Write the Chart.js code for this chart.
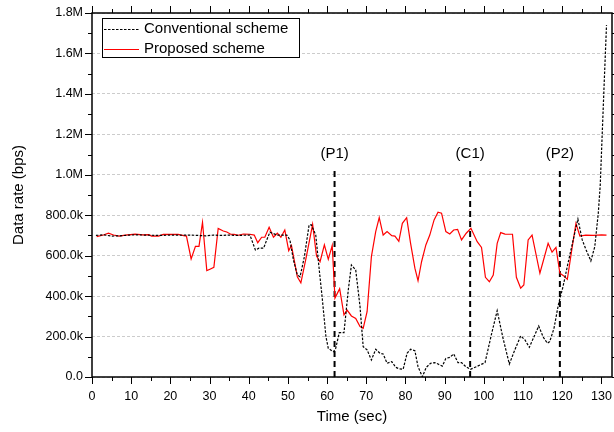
<!DOCTYPE html>
<html><head><meta charset="utf-8">
<script src="https://cdn.jsdelivr.net/npm/chart.js@4.4.0/dist/chart.umd.min.js"></script>
<style>html,body{margin:0;padding:0;background:#fff}#wrap{width:614px;height:432px}</style>
</head><body><div id="wrap"><canvas id="c" width="614" height="432"></canvas></div>
<script>
// Data rates in kbps, time in seconds
const convTimes = [1,3,5,7,9,11,13,15,17,19,21,23,25,27,29,31,33,35,37,39,40.3,
  41.7,42.6,43.8,44.6,45.4,47.2,49.7,50.5,51.4,52.4,53.1,54.2,55.4,56,57.1,58,58.8,59.7,60.3,61.6,62.2,63.1,64.3,65.4,66.2,67.3,68.4,69.2,70.2,
  71.3,72.4,73.5,74.3,75.3,76.5,77.5,78.3,79.4,80.4,81.3,82.4,83.2,84.3,85.3,86.4,87.5,88.3,89.4,90.3,91.3,92.3,93.4,94.3,95.4,96.6,98.1,100.3,
  102,103.4,104.8,106.5,107.9,109.4,110.5,111.6,112.8,114,115.1,116.2,116.8,117.9,119,120.2,121.5,122.8,124,125.1,126.1,127.3,128.3,129.2,129.7,130.2,130.7,131.3];
const convRates = [700,703,697,698,701,703,702,701,700,701,702,701,702,700,698,702,700,702,700,701,702,
  628,637,637,678,716,702,702,678,579,504,496,595,752,752,702,529,381,199,142,125,142,219,219,430,554,529,348,150,134,
  84,137,117,114,68,76,48,41,38,117,137,130,51,1,48,68,71,64,54,92,97,114,71,71,51,38,51,71,
  216,328,199,64,134,203,183,147,199,252,199,167,175,241,356,447,565,678,781,678,628,574,644,810,950,1200,1450,1740];
const propTimes = [1.2,2.9,4.2,5.5,6.9,8.5,11,13,14.5,15.2,17,18.2,20,22,23.4,24.1,25.3,26.4,27.3,28.2,29.3,30.1,31.1,32.2,33.5,34.4,35.4,36.3,37.3,38.6,40.3,
  41.4,42.3,43.3,44.1,45.2,46.3,47.3,48.2,49.2,50.2,50.9,52.4,53.3,54.7,56.3,57.3,58.2,59.3,60.3,61.3,62,63.2,64.3,65.1,66.2,67.3,68.4,69.2,70.2,
  71.3,72.4,73.3,74.3,75.3,76.5,77.3,78.3,79.2,80.3,81.3,82.4,83.2,84.1,85.2,86.2,87.3,88.3,89.2,90.3,91.3,92.3,93.3,94.3,95.5,96.7,98.3,99.4,100.4,
  101.4,102.4,103.4,104.3,105.4,107.3,108.3,109.4,110.2,111.3,112.3,114.3,116.4,117.4,118.4,119.4,120.4,121.3,122.5,123.5,124.5,126,128,130,131.3];
const propRates = [694,702,711,702,697,702,707,703,704,697,697,705,705,705,699,697,584,646,646,765,526,533,542,735,722,717,706,705,701,707,706,
  702,664,691,691,740,691,711,691,727,625,650,496,466,595,755,598,570,653,582,651,390,437,307,331,302,290,249,241,323,
  595,719,788,702,719,699,697,671,760,788,661,538,476,570,653,702,777,815,810,719,707,727,730,678,711,735,669,641,493,
  471,504,661,714,707,706,493,439,455,678,702,513,661,617,641,513,500,483,637,760,697,702,700,703,702];
const markerTimes = [61.9, 96.5, 119.4];
const markerLabels = ['(P1)', '(C1)', '(P2)'];
const seriesNames = ['Conventional scheme', 'Proposed scheme'];
const xAxisTitle = 'Time (sec)';
const yAxisTitle = 'Data rate (bps)';

const markerTop = 1025, markerLabelY = 1105;
const FONT = 'Arial, "Liberation Sans", sans-serif';

function toPts(ts, vs) { return ts.map((t, i) => ({x: t, y: vs[i]})); }

const datasets = [
  {label: seriesNames[0], data: toPts(convTimes, convRates), borderColor: '#000', borderWidth: 1.2, borderDash: [2.5, 1.5], pointRadius: 0, tension: 0, fill: false},
  {label: seriesNames[1], data: toPts(propTimes, propRates), borderColor: '#ff0000', borderWidth: 1.2, pointRadius: 0, tension: 0, fill: false}
];
markerTimes.forEach((t, i) => datasets.push({label: markerLabels[i], isMarker: true,
  data: [{x: t, y: 0}, {x: t, y: markerTop}], borderColor: '#000', borderWidth: 2, borderDash: [6, 4], pointRadius: 0}));

function fmtY(v) {
  if (v === 0) return '0.0';
  if (v < 1000) return v.toFixed(1) + 'k';
  return (v / 1000).toFixed(1) + 'M';
}

const decor = {
  id: 'decor',
  afterDatasetsDraw(chart) {
    const {ctx, chartArea: a, scales: {x, y}} = chart;
    ctx.save();
    ctx.strokeStyle = '#000';
    ctx.lineWidth = 1.5;
    ctx.strokeRect(a.left, a.top, a.right - a.left, a.bottom - a.top);
    ctx.lineWidth = 1;
    ctx.beginPath();
    for (let v = 0; v <= x.max; v += 5) {
      const px = Math.round(x.getPixelForValue(v)) + 0.5;
      const len = v % 10 === 0 ? 7 : 4;
      ctx.moveTo(px, a.bottom); ctx.lineTo(px, a.bottom + len);
      ctx.moveTo(px, a.top); ctx.lineTo(px, a.top - len);
    }
    for (let v = 0; v <= y.max; v += 100) {
      const py = Math.round(y.getPixelForValue(v)) + 0.5;
      const len = v % 200 === 0 ? 7 : 4;
      ctx.moveTo(a.left - len, py); ctx.lineTo(a.left, py);
      ctx.moveTo(a.right, py); ctx.lineTo(a.right + len, py);
    }
    ctx.stroke();
    // marker labels
    ctx.fillStyle = '#000';
    ctx.font = '15px ' + FONT;
    ctx.textAlign = 'center';
    ctx.textBaseline = 'middle';
    markerTimes.forEach((t, i) => ctx.fillText(markerLabels[i], x.getPixelForValue(t), y.getPixelForValue(markerLabelY)));
    // legend
    const lx = a.left + 10, ly = a.top + 5, lw = 197, lh = 39;
    ctx.fillStyle = '#fff';
    ctx.fillRect(lx, ly, lw, lh);
    ctx.lineWidth = 1;
    ctx.strokeStyle = '#000';
    ctx.strokeRect(lx + 0.5, ly + 0.5, lw, lh);
    ctx.textAlign = 'left';
    [0, 1].forEach(i => {
      const ds = chart.data.datasets[i];
      const cy = ly + 11 + i * 19.5;
      ctx.beginPath();
      ctx.strokeStyle = ds.borderColor;
      ctx.lineWidth = ds.borderWidth;
      ctx.setLineDash(ds.borderDash || []);
      ctx.moveTo(lx + 2, Math.round(cy) + 0.5); ctx.lineTo(lx + 37, Math.round(cy) + 0.5);
      ctx.stroke();
      ctx.setLineDash([]);
      ctx.fillStyle = '#000';
      ctx.fillText(ds.label, lx + 42, cy);
    });
    ctx.restore();
  }
};

new Chart(document.getElementById('c'), {
  type: 'line',
  data: {datasets},
  options: {
    responsive: false, animation: false, devicePixelRatio: 1,
    layout: {padding: {top: 13, right: 2, left: 0, bottom: 0}},
    plugins: {legend: {display: false}, tooltip: {enabled: false}},
    scales: {
      x: {type: 'linear', min: 0, max: 132.7,
        ticks: {stepSize: 10, includeBounds: false, autoSkip: false, maxRotation: 0, color: '#000', font: {family: FONT, size: 12.5}, padding: 12},
        grid: {display: false, drawTicks: false}, border: {display: false},
        title: {display: true, text: xAxisTitle, color: '#000', font: {family: FONT, size: 15}, padding: {top: 0, bottom: 6}},
        afterFit(s) { s.height = 55; s.paddingLeft = 0; s.paddingRight = 0; }
      },
      y: {type: 'linear', min: 0, max: 1800,
        ticks: {stepSize: 200, color: '#000', font: {family: FONT, size: 12.5}, padding: 9, callback: v => fmtY(v)},
        grid: {color: '#cccccc', lineWidth: 1, drawTicks: false}, border: {display: false, dash: [3, 2]},
        title: {display: true, text: yAxisTitle, color: '#000', font: {family: FONT, size: 15}, padding: {top: 10, bottom: 0}},
        afterFit(s) { s.width = 92; s.paddingTop = 0; s.paddingBottom = 0; }
      }
    }
  },
  plugins: [decor]
});
</script></body></html>
